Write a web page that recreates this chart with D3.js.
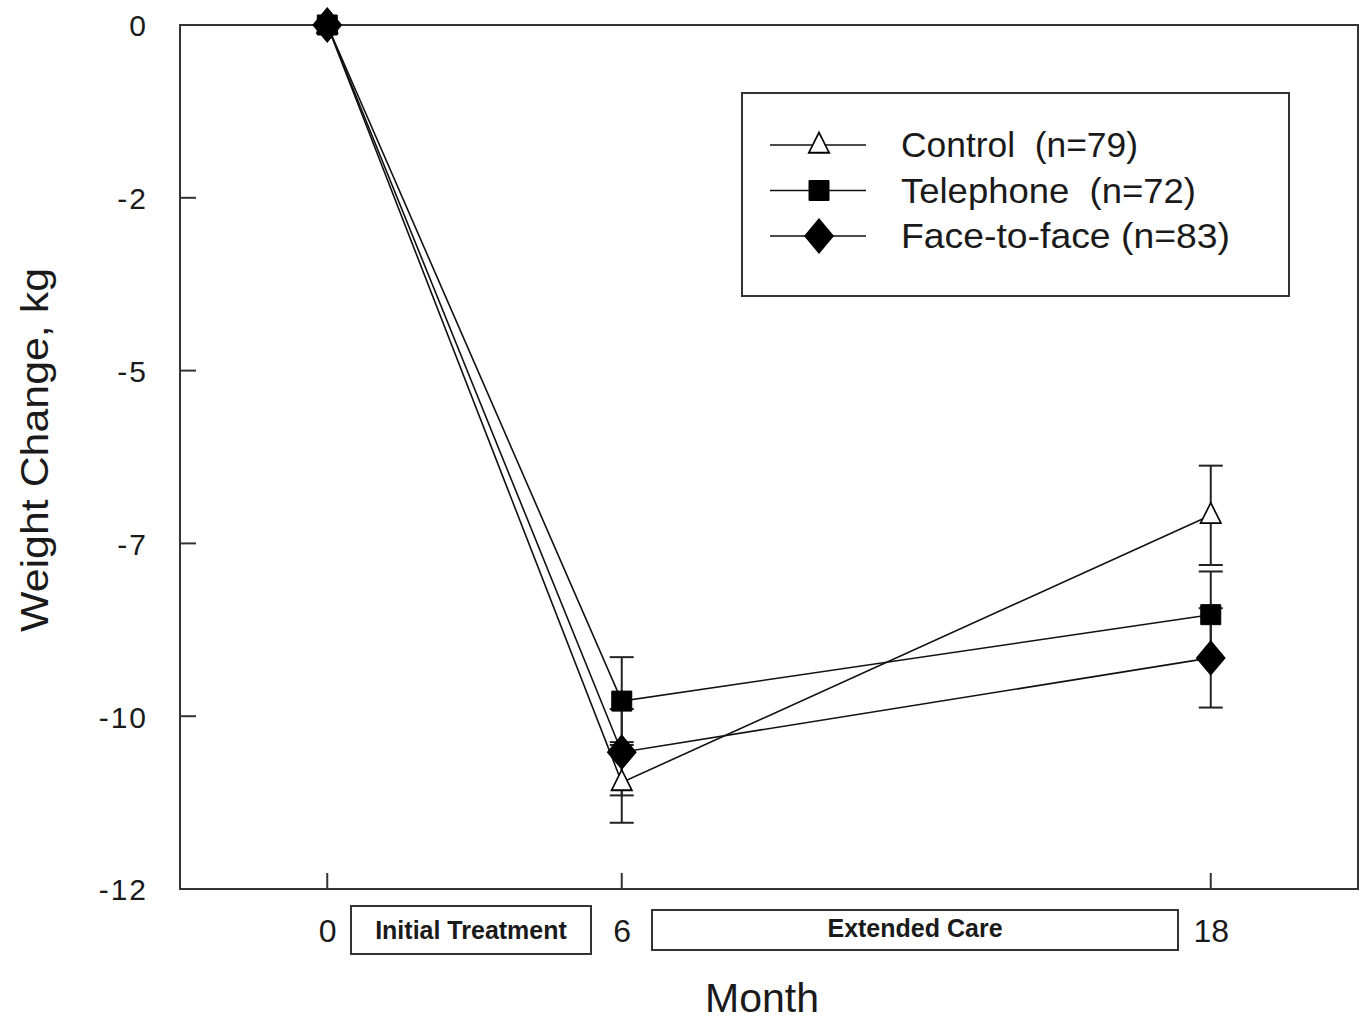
<!DOCTYPE html>
<html>
<head>
<meta charset="utf-8">
<script src="https://cdn.jsdelivr.net/npm/d3@7"></script>
<style>
  body { margin: 0; background: #fff; }
  svg { display: block; font-family: "Liberation Sans", Arial, sans-serif; }
</style>
</head>
<body>
<div id="chart"></div>
<script>
// données (kg, moyenne +/- erreur)
const months = [0, 6, 18]
const seriesNames = ["Control  (n=79)", "Telephone  (n=72)", "Face-to-face (n=83)"]
const seriesSymbols = ["triangle", "square", "diamond"]
const controlValues = [0, -10.52, -6.81]
const controlErrors = [0, 0.56, 0.69]
const telephoneValues = [0, -9.39, -8.19]
const telephoneErrors = [0, 0.61, 0.60]
const faceValues = [0, -10.10, -8.79]
const faceErrors = [0, 0.60, 0.69]
const yTickValues = [0, -2.4, -4.8, -7.2, -9.6, -12]
const yTickLabels = ["0", "-2", "-5", "-7", "-10", "-12"]
const xTickValues = [0, 6, 18]
const phases = [{label: "Initial Treatment", from: 0, to: 6}, {label: "Extended Care", from: 6, to: 18}]

const series = [
  {name: seriesNames[0], sym: seriesSymbols[0], values: controlValues, errors: controlErrors},
  {name: seriesNames[1], sym: seriesSymbols[1], values: telephoneValues, errors: telephoneErrors},
  {name: seriesNames[2], sym: seriesSymbols[2], values: faceValues, errors: faceErrors}
]

const width = 1365, height = 1022
const margin = {left: 180, top: 25, right: 7, bottom: 133}
const ink = "#1a1a1a"

const svg = d3.select("#chart").append("svg")
  .attr("width", width).attr("height", height)

const x = d3.scaleLinear().domain([-3, 21]).range([margin.left, width - margin.right])
const y = d3.scaleLinear().domain([-12, 0]).range([height - margin.bottom, margin.top])

// cadre
svg.append("rect")
  .attr("x", x(-3)).attr("y", y(0))
  .attr("width", x(21) - x(-3)).attr("height", y(-12) - y(0))
  .attr("fill", "none").attr("stroke", "#333").attr("stroke-width", 2)

// axe y : libellés par d3.axis, graduations dessinées vers l'intérieur
const yAxis = d3.axisLeft(y).tickValues(yTickValues)
  .tickFormat((d, i) => yTickLabels[i]).tickSize(0).tickPadding(32)
const gy = svg.append("g").attr("transform", `translate(${x(-3)},0)`).call(yAxis)
gy.select(".domain").remove()
gy.selectAll("text").attr("font-size", 30).attr("fill", ink).attr("dy", "0.36em")
  .attr("letter-spacing", 2)
svg.append("g").selectAll("line").data(yTickValues).enter().append("line")
  .attr("x1", x(-3)).attr("x2", x(-3) + 16).attr("y1", d => y(d)).attr("y2", d => y(d))
  .attr("stroke", "#333").attr("stroke-width", 2)

// axe x
const xAxis = d3.axisBottom(x).tickValues(xTickValues).tickSize(0).tickPadding(30)
const gx = svg.append("g").attr("transform", `translate(0,${y(-12)})`).call(xAxis)
gx.select(".domain").remove()
gx.selectAll("text").attr("font-size", 32).attr("fill", ink).attr("dy", "0.71em")
svg.append("g").selectAll("line").data(xTickValues).enter().append("line")
  .attr("x1", d => x(d)).attr("x2", d => x(d)).attr("y1", y(-12)).attr("y2", y(-12) - 16)
  .attr("stroke", "#333").attr("stroke-width", 2)

// boites des phases
const phaseBox = [{x0: 351, x1: 591, y0: 906, y1: 954}, {x0: 652, x1: 1178, y0: 910, y1: 950}]
phases.forEach(function(p, i) {
  const b = phaseBox[i]
  svg.append("rect").attr("x", b.x0).attr("y", b.y0)
    .attr("width", b.x1 - b.x0).attr("height", b.y1 - b.y0)
    .attr("fill", "none").attr("stroke", "#333").attr("stroke-width", 2)
  svg.append("text").text(p.label)
    .attr("x", (b.x0 + b.x1) / 2).attr("y", i == 0 ? 939 : 937)
    .attr("text-anchor", "middle").attr("font-size", 25).attr("font-weight", "bold").attr("fill", ink)
})

// titres d'axes
svg.append("text").text("Month")
  .attr("x", 762).attr("y", 1012).attr("text-anchor", "middle")
  .attr("font-size", 41).attr("fill", ink)
svg.append("text").text("Weight Change, kg")
  .attr("transform", "translate(48,450) rotate(-90)").attr("text-anchor", "middle")
  .attr("font-size", 38).attr("fill", ink)
  .attr("textLength", 364).attr("lengthAdjust", "spacingAndGlyphs")

// symboles
const symbolSize = {triangle: 180, square: 400, diamond: 330}
const symbolType = {triangle: d3.symbolTriangle, square: d3.symbolSquare, diamond: d3.symbolDiamond}
function drawSymbol(g, sym, cx, cy) {
  let path = d3.symbol().type(symbolType[sym]).size(symbolSize[sym])()
  g.append("path").attr("d", path)
    .attr("transform", sym == "diamond" ? `translate(${cx},${cy}) scale(1.45,1)` :
                       sym == "triangle" ? `translate(${cx},${cy + 1}) scale(1,1.15)` : `translate(${cx},${cy})`)
    .attr("fill", sym == "triangle" ? "#fff" : "#000")
    .attr("stroke", "#000").attr("stroke-width", sym == "triangle" ? 1.6 : 1)
}

const line = d3.line().x((d, i) => x(months[i])).y(d => y(d))
const plot = svg.append("g")

// barres d'erreur
series.forEach(function(s) {
  s.values.forEach(function(v, i) {
    if (!s.errors[i]) return
    const g = plot.append("g").attr("stroke", "#222").attr("stroke-width", 2)
    const cx = x(months[i])
    g.append("line").attr("x1", cx).attr("x2", cx).attr("y1", y(v + s.errors[i])).attr("y2", y(v - s.errors[i]))
    ;[v + s.errors[i], v - s.errors[i]].forEach(e =>
      g.append("line").attr("x1", cx - 12).attr("x2", cx + 12).attr("y1", y(e)).attr("y2", y(e)))
  })
})

// lignes
series.forEach(function(s) {
  plot.append("path").datum(s.values).attr("d", line)
    .attr("fill", "none").attr("stroke", "#111").attr("stroke-width", 1.6)
})
// points
series.forEach(function(s) {
  s.values.forEach((v, i) => drawSymbol(plot, s.sym, x(months[i]), y(v)))
})

// légende
const legendTextWidth = [237, 295, 329]
const legend = svg.append("g")
legend.append("rect").attr("x", 742).attr("y", 93).attr("width", 547).attr("height", 203)
  .attr("fill", "#fff").attr("stroke", "#333").attr("stroke-width", 2)
series.forEach(function(s, i) {
  const ly = 145 + i * 45.5
  legend.append("line").attr("x1", 770).attr("x2", 866).attr("y1", ly).attr("y2", ly)
    .attr("stroke", "#111").attr("stroke-width", 1.6)
  drawSymbol(legend, s.sym, 819, ly)
  legend.append("text").text(s.name)
    .attr("x", 901).attr("y", ly + 12)
    .attr("font-size", 35).attr("fill", ink).style("white-space", "pre")
    .attr("textLength", legendTextWidth[i]).attr("lengthAdjust", "spacingAndGlyphs")
})
</script>
</body>
</html>
